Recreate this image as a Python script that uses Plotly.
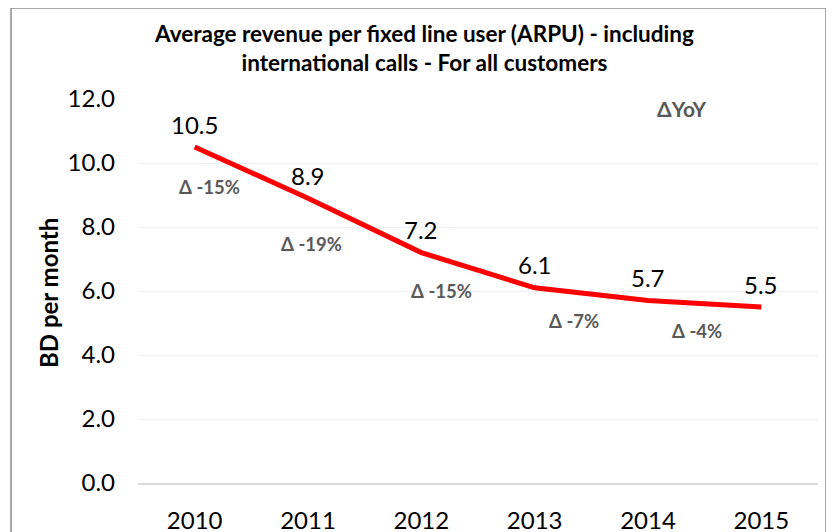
import plotly.graph_objects as go

years = ["2010", "2011", "2012", "2013", "2014", "2015"]
arpu = [10.5, 8.9, 7.2, 6.1, 5.7, 5.5]
yoy_labels = ["Δ -15%", "Δ -19%", "Δ -15%", "Δ -7%", "Δ -4%"]
yoy_x = [0.13, 1.03, 2.18, 3.35, 4.43]
yoy_y = [9.25, 7.47, 6.0, 5.06, 4.75]
y_ticks = [0, 2, 4, 6, 8, 10, 12]

FONT = "Lato"
W, H = 834, 532
OFF = 8  # page body margin offset
# plot area in screen (reference) coordinates
L, R, T, B = 138, 818, 99, 483
Lf, Rf, Tf, Bf = L - OFF, R - OFF, T - OFF, B - OFF
pw, ph = Rf - Lf, Bf - Tf

def px(x):
    return (x - OFF - Lf) / pw

def py(y):
    return (Bf - (y - OFF)) / ph

fig = go.Figure()
fig.add_trace(go.Scatter(
    x=years, y=arpu, mode="lines",
    line=dict(color="#ff0000", width=5),
    hoverinfo="skip", showlegend=False,
))

for i, v in enumerate(arpu):
    fig.add_annotation(x=i, y=v, xref="x", yref="y", text=f"{v:.1f}",
                       showarrow=False, yshift=23, yanchor="middle",
                       font=dict(family=FONT, size=24, color="#000000"))

for lab, xx, yy in zip(yoy_labels, yoy_x, yoy_y):
    fig.add_annotation(x=xx, y=yy, xref="x", yref="y", text=f"<b>{lab}</b>",
                       showarrow=False, yanchor="middle",
                       font=dict(family=FONT, size=18.5, color="#595959"))
fig.add_annotation(x=4.3, y=11.7, xref="x", yref="y", text="<b>ΔYoY</b>",
                   showarrow=False, yanchor="middle",
                   font=dict(family=FONT, size=21, color="#595959"))

fig.add_annotation(x=px(424), y=py(48), xref="paper", yref="paper",
                   xanchor="center", yanchor="middle",
                   text="<b>Average revenue per fixed line user (ARPU) - including<br>international calls - For all customers</b>",
                   showarrow=False, align="center",
                   font=dict(family=FONT, size=22.5, color="#000000"))

fig.add_annotation(x=px(48), y=py(293), xref="paper", yref="paper",
                   xanchor="center", yanchor="middle",
                   text="<b>BD per month</b>", textangle=-90, showarrow=False,
                   font=dict(family=FONT, size=24, color="#000000"))

# outer border
fig.add_shape(type="rect", xref="paper", yref="paper",
              x0=px(11), x1=px(826), y0=py(560), y1=py(8),
              line=dict(color="#8c8c8c", width=1.5), fillcolor="rgba(0,0,0,0)")
# green corner artifact
fig.add_shape(type="rect", xref="paper", yref="paper",
              x0=px(827), x1=px(840), y0=py(540), y1=py(516),
              line=dict(width=0), fillcolor="#8cc63e")

fig.update_xaxes(
    type="category", range=[-0.5, 5.5], showgrid=False,
    showline=True, linecolor="#d9d9d9", linewidth=1.5,
    ticks="", ticklabelstandoff=15, automargin=False,
    tickfont=dict(family=FONT, size=24, color="#000000"),
    fixedrange=True,
)
fig.update_yaxes(
    range=[0, 12], tickvals=y_ticks, ticktext=[f"{v:.1f}" for v in y_ticks],
    showgrid=True, gridcolor="#eef0f6", gridwidth=1.2,
    zeroline=False, showline=False, ticks="", ticklabelstandoff=22,
    automargin=False,
    tickfont=dict(family=FONT, size=24, color="#000000"),
    fixedrange=True,
)
fig.update_layout(
    width=W, height=H,
    margin=dict(l=Lf, r=W - Rf, t=Tf, b=H - Bf, pad=0, autoexpand=False),
    paper_bgcolor="#ffffff", plot_bgcolor="#ffffff",
    font=dict(family=FONT),
)
fig.write_html("out.html", config={"displayModeBar": False})
